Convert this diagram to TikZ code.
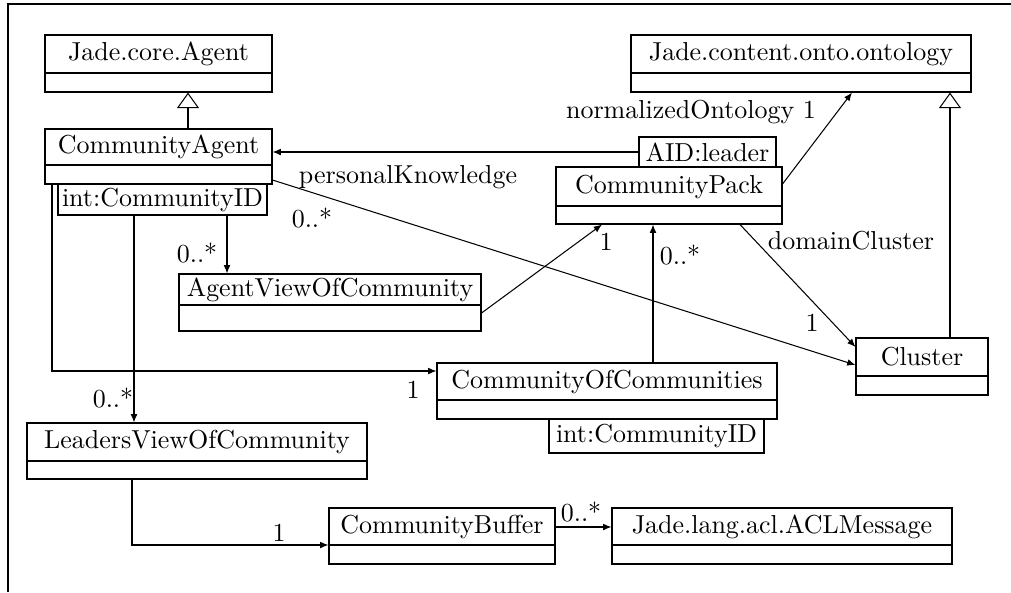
\documentclass[tikz,border=0pt]{standalone}
\usetikzlibrary{arrows.meta,fit,calc}
\tikzset{
  box/.style={draw, inner sep=0pt},
  assoc/.style={-{Latex[length=3.2pt,width=2.6pt]}},
  gen/.style={-{Triangle[open,length=6pt,width=8.5pt]}},
  lbl/.style={inner sep=0pt},
}
% name, x1, y1, x2, ydiv, y2, text
\newcommand\umlclass[7]{%
  \node[box, fit={(#2,#3)(#4,#6)}] (#1) {};
  \node[lbl] (#1-name) at ($(#2,#3)!0.5!(#4,#5)$) {#7};
  \draw (#2,#5) -- (#4,#5);
}
% name, x1, y1, x2, y2, text
\newcommand\umlattr[6]{%
  \node[box, fit={(#2,#3)(#4,#5)}] (#1) {};
  \node[lbl] (#1-name) at (#1.center) {#6};
}
\begin{document}
\begin{tikzpicture}[x=0.385pt,y=-0.385pt]
\useasboundingbox (0,0) rectangle (1011,592);
% frame
\draw (8,592) -- (8,4) -- (1011,4);

% classes
\umlclass{jca}{45}{35}{272}{73}{92}{Jade.core.Agent}
\umlclass{ca}{45}{129}{272}{165}{184}{CommunityAgent}
\umlclass{ont}{631}{35}{971}{73}{92}{Jade.content.onto.ontology}
\umlclass{cp}{556}{167}{782}{206}{224}{CommunityPack}
\umlclass{avc}{179}{274}{481}{305}{331}{AgentViewOfCommunity}
\umlclass{coc}{437}{363}{777}{400}{419}{CommunityOfCommunities}
\umlclass{cl}{856}{338}{988}{376}{395}{Cluster}
\umlclass{lvc}{27}{423}{367}{461}{479}{LeadersViewOfCommunity}
\umlclass{cb}{329}{508}{555}{545}{564}{CommunityBuffer}
\umlclass{acl}{612}{508}{952}{545}{564}{Jade.lang.acl.ACLMessage}

% attribute boxes
\umlattr{id1}{58}{184}{267}{215}{int:CommunityID}
\umlattr{aid}{639}{137}{776}{167}{AID:leader}
\umlattr{id2}{549}{419}{764}{453}{int:CommunityID}

% generalizations
\draw[gen] (ca.north -| 188,0) -- (jca.south -| 188,0);
\draw[gen] (cl.north -| 950,0) -- (ont.south -| 950,0);

% associations
\draw[assoc] (aid.west |- 0,152) -- (ca.east |- 0,152);
\draw[assoc] (cp.east |- 0,184) -- (ont.south -| 852,0);
\draw[assoc] (ca.east |- 0,180) -- (cl.west |- 0,365);
\draw[assoc] (id1.south -| 227,0) -- (avc.north -| 227,0);
\draw[assoc] (id1.south -| 134,0) -- (lvc.north -| 134,0);
\draw[assoc] (ca.south -| 52,0) |- (coc.west |- 0,371);
\draw[assoc] (avc.east |- 0,313) -- (cp.south -| 602,0);
\draw[assoc] (coc.north -| 653,0) -- (cp.south -| 653,0);
\draw[assoc] (cp.south -| 740,0) -- (cl.west |- 0,347);
\draw[assoc] (lvc.south -| 132,0) |- (cb.west |- 0,545);
\draw[assoc] (cb.east |- 0,527) -- (acl.west |- 0,527);

% labels
\node[lbl] (l1) at (691,112) {normalizedOntology 1};
\node[lbl] (l2) at (408,177) {personalKnowledge};
\node[lbl] (l3) at (312,218) {0..*};
\node[lbl] (l4) at (197,253) {0..*};
\node[lbl] (l5) at (606,242) {1};
\node[lbl] (l6) at (680,255) {0..*};
\node[lbl] (l7) at (851,241) {domainCluster};
\node[lbl] (l8) at (812,323) {1};
\node[lbl] (l9) at (413,390) {1};
\node[lbl] (l10) at (113,398) {0..*};
\node[lbl] (l11) at (279,533) {1};
\node[lbl] (l12) at (581,512) {0..*};
\end{tikzpicture}
\end{document}
